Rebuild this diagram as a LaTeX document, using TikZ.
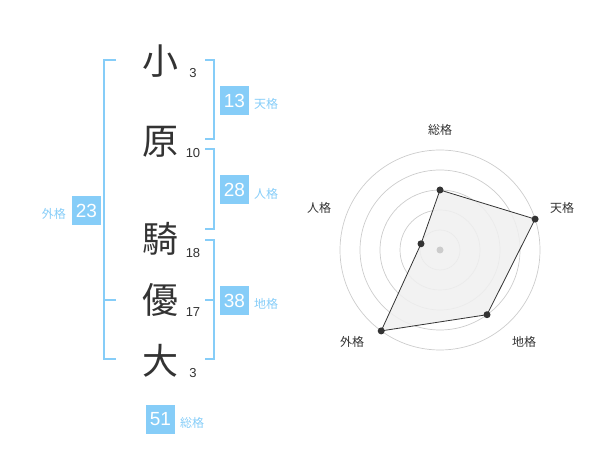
\documentclass[tikz,border=0pt]{standalone}
\usepackage{fontspec}
\setmainfont{Liberation Sans}
\newfontfamily\jp{Noto Sans CJK JP}
\definecolor{kblue}{HTML}{86CDF8}
\definecolor{ktext}{HTML}{333333}
\definecolor{kgrid}{HTML}{CCCCCC}
\definecolor{kfill}{HTML}{F0F0F0}
\tikzset{
  kanji/.style={font=\jp\fontsize{36}{36}\selectfont, text=ktext, inner sep=0pt},
  stroke/.style={font=\fontsize{13}{13}\selectfont, text=ktext, inner sep=0pt},
  kbox/.style={fill=kblue, text=white, minimum size=29pt, inner sep=0pt, font=\fontsize{19}{19}\selectfont},
  klabel/.style={font=\jp\fontsize{12}{12}\selectfont, text=kblue, inner sep=0pt},
  bracket/.style={draw=kblue, line width=2pt},
  rlabel/.style={font=\jp\fontsize{12}{12}\selectfont, text=ktext, inner sep=0pt},
  dot/.style={circle, fill=ktext, inner sep=0pt, minimum size=7pt},
}
\begin{document}
\begin{tikzpicture}[x=1pt,y=-1pt]
\useasboundingbox (0,0) rectangle (600,470);
% characters
\node[kanji] (c1) at (160,61) {小};
\node[kanji] (c2) at (160,142) {原};
\node[kanji] (c3) at (160,239) {騎};
\node[kanji] (c4) at (160,300) {優};
\node[kanji] (c5) at (160,361) {大};
\node[stroke] (s1) at (193,73) {3};
\node[stroke] (s2) at (193,153) {10};
\node[stroke] (s3) at (193,253) {18};
\node[stroke] (s4) at (193,312) {17};
\node[stroke] (s5) at (193,373) {3};
% brackets
\draw[bracket] (116,60) -- (104,60) -- (104,359) -- (116,359);
\draw[bracket] (104,300) -- (116,300);
\draw[bracket] (205,60) -- (214,60) -- (214,139) -- (205,139);
\draw[bracket] (205,149) -- (214,149) -- (214,229) -- (205,229);
\draw[bracket] (205,240) -- (214,240) -- (214,359) -- (205,359);
\draw[bracket] (205,300) -- (214,300);
% boxes
\node[kbox] (ten) at (234.5,100.5) {13};
\node[klabel, anchor=west] (tenl) at (254,104) {天格};
\node[kbox] (jin) at (234.5,190) {28};
\node[klabel, anchor=west] (jinl) at (254,194) {人格};
\node[kbox] (chi) at (234.5,300.5) {38};
\node[klabel, anchor=west] (chil) at (254,304) {地格};
\node[kbox] (gai) at (86.5,210.5) {23};
\node[klabel, anchor=east] (gail) at (66,214) {外格};
\node[kbox] (sou) at (160.5,419) {51};
\node[klabel, anchor=west] (soul) at (180,423) {総格};
% radar
\foreach \r in {20,40,60,80,100} \draw[kgrid, line width=0.7pt] (440,250) circle (\r);
\coordinate (pS) at (440,190);
\coordinate (pT) at (535.1,219.1);
\coordinate (pC) at (487.0,314.7);
\coordinate (pG) at (381.2,330.9);
\coordinate (pJ) at (421.0,243.8);
\filldraw[fill=kfill, fill opacity=0.85, draw=ktext, line width=0.8pt] (pS) -- (pT) -- (pC) -- (pG) -- (pJ) -- cycle;
\node[circle, fill=kgrid, inner sep=0pt, minimum size=7pt] (ctr) at (440,250) {};
\foreach \p in {pS,pT,pC,pG,pJ} \node[dot] at (\p) {};
\node[rlabel] (lS) at (440,130) {総格};
\node[rlabel] (lT) at (562,208) {天格};
\node[rlabel] (lC) at (524,342) {地格};
\node[rlabel] (lG) at (352,342) {外格};
\node[rlabel] (lJ) at (319,208) {人格};
\end{tikzpicture}
\end{document}
